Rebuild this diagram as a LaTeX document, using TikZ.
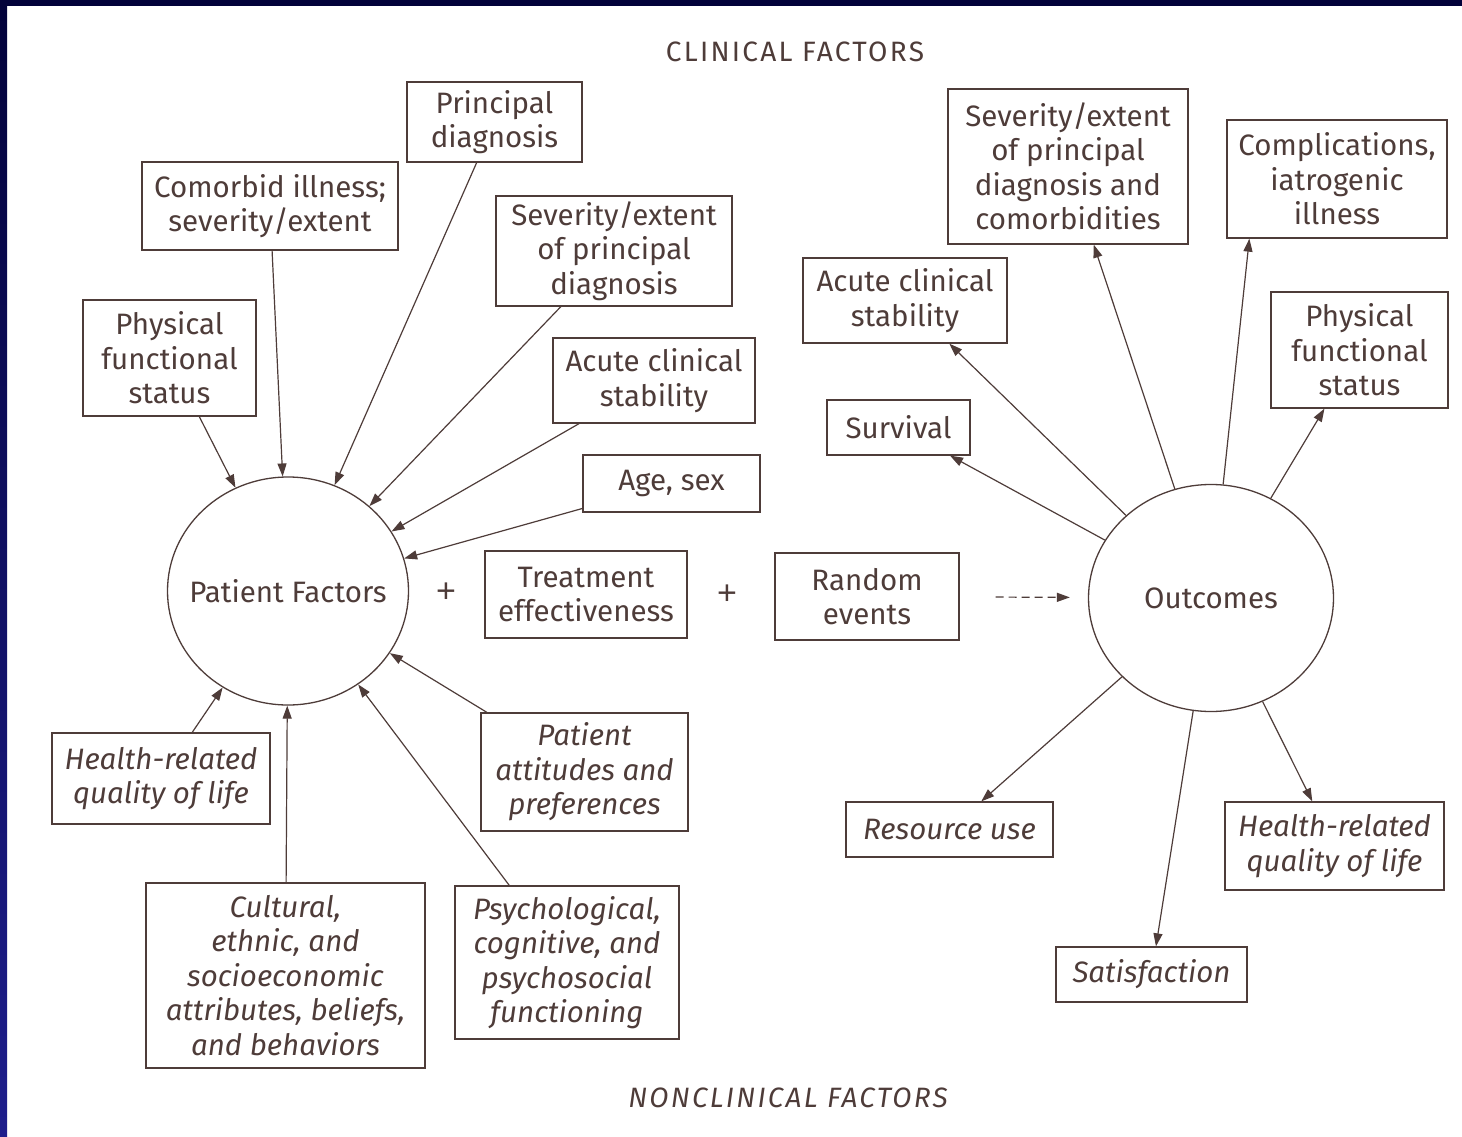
\documentclass[tikz,border=0pt]{standalone}
\usepackage{fontspec}
\setmainfont{Fira Sans}
\newfontfamily\plusfont{Liberation Sans}
\usepackage{tikz}
\usetikzlibrary{arrows.meta, shapes.geometric, positioning}
\definecolor{ink}{RGB}{78,60,57}
\definecolor{navy}{RGB}{2,2,58}
\definecolor{slideblue}{RGB}{30,30,140}
\newcommand{\boxfont}{\fontsize{29.5}{34.5}\selectfont}

\tikzset{
	box/.style={draw=ink, line width=1.3pt, text=ink, align=center, inner sep=0pt, font=\boxfont},
	ital/.style={box, font=\boxfont\itshape},
	factor/.style={draw=ink, line width=1.3pt, ellipse, inner sep=0pt,
		label={[text=ink, font=\boxfont]center:#1}},
	heading/.style={text=ink, font=\fontsize{28}{34}\selectfont\addfontfeatures{LetterSpace=8}},
	plussign/.style={text=ink, font=\plusfont\fontsize{34}{34}\selectfont},
	link/.style={draw=ink, line width=1.2pt, ->},
}

\begin{document}
\begin{tikzpicture}[x=1pt, y=-1pt, >={Triangle[length=13pt,width=9pt]}]
	\useasboundingbox (0,0) rectangle (1462,1137);
	\fill[white] (0,0) rectangle (1462,1137);
	\fill[navy] (0,0) rectangle (1462,6);
	\shade[top color=navy, bottom color=slideblue] (0,0) rectangle (7,1137);

	% titles
	\node[heading] (clin) at (795,52) {CLINICAL FACTORS};
	\node[heading, font=\fontsize{28}{34}\selectfont\itshape\addfontfeatures{LetterSpace=8}] (nonclin) at (788,1098) {NONCLINICAL FACTORS};

	% the two circles
	\node[factor=Patient Factors, minimum width=241, minimum height=228] (pf) at (288,591) {};
	\node[factor=Outcomes, minimum width=245, minimum height=227] (out) at (1211,598) {};

	% middle row
	\node[plussign] (plus1) at (446,593) {+};
	\node[box, minimum width=202, minimum height=87] (treat) at (586,594.5) {Treatment\\effectiveness};
	\node[plussign] (plus2) at (727,595) {+};
	\node[box, minimum width=184, minimum height=87] (rand) at (867,596.5) {Random\\events};

	% clinical factors, left
	\node[box, minimum width=173, minimum height=116] (physL) at (169.5,358) {Physical\\functional\\status};
	\node[box, minimum width=256, minimum height=88] (comorb) at (270,206) {Comorbid illness;\\severity/extent};
	\node[box, minimum width=175, minimum height=80] (princ) at (494.5,122) {Principal\\diagnosis};
	\node[box, minimum width=236, minimum height=110] (sevL) at (614,251) {Severity/extent\\of principal\\diagnosis};
	\node[box, minimum width=202, minimum height=85] (acuteL) at (654,380.5) {Acute clinical\\stability};
	\node[box, minimum width=177, minimum height=57] (agesex) at (671.5,483.5) {Age, sex};

	% nonclinical factors, left
	\node[ital, minimum width=218, minimum height=91] (hrqlL) at (161,778.5) {Health-related\\quality of life};
	\node[ital, minimum width=279, minimum height=185] (cult) at (285.5,975.5) {Cultural,\\ethnic, and\\socioeconomic\\attributes, beliefs,\\and behaviors};
	\node[ital, minimum width=224, minimum height=153] (psych) at (567,962.5) {Psychological,\\cognitive, and\\psychosocial\\functioning};
	\node[ital, minimum width=207, minimum height=118] (attit) at (584.5,772) {Patient\\attitudes and\\preferences};

	% outcomes, right
	\node[box, minimum width=204, minimum height=85] (acuteR) at (905,300.5) {Acute clinical\\stability};
	\node[box, minimum width=240, minimum height=155] (sevR) at (1068,166.5) {Severity/extent\\of principal\\diagnosis and\\comorbidities};
	\node[box, minimum width=220, minimum height=118] (compl) at (1337,179) {Complications,\\iatrogenic\\illness};
	\node[box, minimum width=177, minimum height=116] (physR) at (1359.5,350) {Physical\\functional\\status};
	\node[box, minimum width=143, minimum height=55] (surv) at (898.5,427.5) {Survival};
	\node[ital, minimum width=207, minimum height=55] (resuse) at (949.5,829.5) {Resource use};
	\node[ital, minimum width=219, minimum height=88] (hrqlR) at (1334.5,846) {Health-related\\quality of life};
	\node[ital, minimum width=191, minimum height=55] (satis) at (1151.5,974.5) {Satisfaction};

	% into patient factors
	\draw[link] (physL)--(pf);
	\draw[link] (comorb)--(pf);
	\draw[link] (princ)--(pf);
	\draw[link] (sevL)--(pf);
	\draw[link] (acuteL)--(pf);
	\draw[link] (agesex)--(pf);
	\draw[link] (attit)--(pf);
	\draw[link] (psych)--(pf);
	\draw[link] (cult)--(pf);
	\draw[link] (hrqlL)--(pf);

	\draw[link, dashed, dash pattern=on 8pt off 5pt, shorten <=36pt, shorten >=18pt] (rand)--(out);

	% out of outcomes
	\draw[link] (out)--(surv);
	\draw[link] (out)--(acuteR);
	\draw[link] (out)--(sevR);
	\draw[link] (out)--([xshift=23]compl.south west);
	\draw[link] (out)--(physR);
	\draw[link] (out)--(resuse);
	\draw[link] (out)--(satis);
	\draw[link] (out)--(hrqlR);

	\end{tikzpicture}
\end{document}
